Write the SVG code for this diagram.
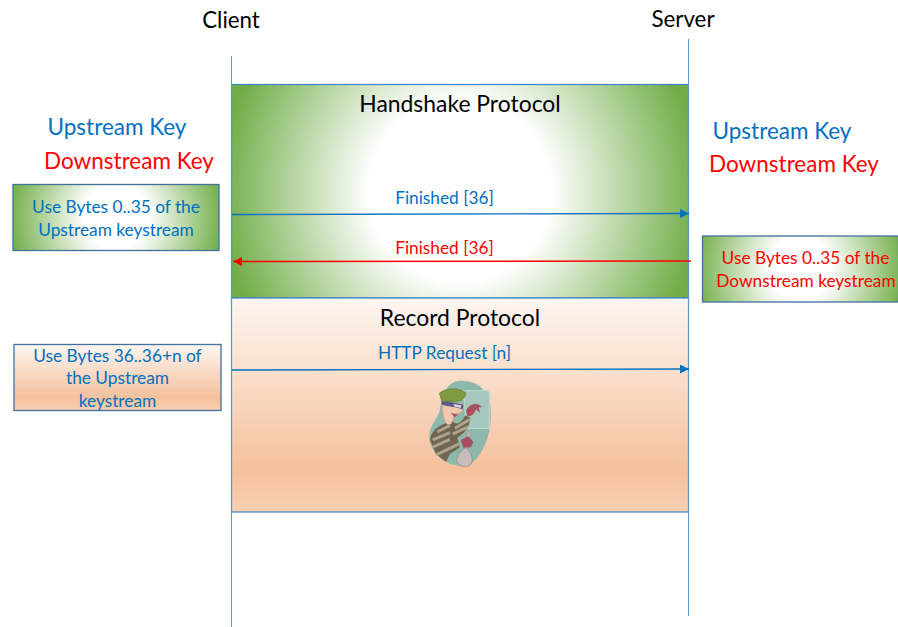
<svg xmlns="http://www.w3.org/2000/svg" width="898" height="627" viewBox="0 0 898 627">
<style>
text{font-family:Lato,"Noto Sans",sans-serif;text-anchor:middle}
.h{font-size:22.3px;fill:#000}
.pr{font-size:22.9px;fill:#000}
.k{font-size:22.5px}
.u{fill:#0070C0}
.r{fill:#FF0000}
.s{font-size:17.3px}
.box{stroke:#41719C;stroke-width:1.3}
.stage{stroke:#3F83C4;stroke-width:1.2}
.life{stroke:#5B9BD5;stroke-width:1;fill:none}
.blue{stroke:#0070C0;stroke-width:1.4;fill:none;marker-end:url(#ab)}
.red{stroke:#FF0000;stroke-width:1.4;fill:none;marker-end:url(#ar)}
</style>
<defs>
<radialGradient id="g" gradientUnits="userSpaceOnUse" cx="460" cy="191" r="240">
<stop offset=".38" stop-color="#fff"/><stop offset="1" stop-color="#70AD47"/>
</radialGradient>
<radialGradient id="g1" gradientUnits="userSpaceOnUse" cx="116" cy="217" r="108">
<stop offset=".3" stop-color="#fff"/><stop offset="1" stop-color="#70AD47"/>
</radialGradient>
<radialGradient id="g2" gradientUnits="userSpaceOnUse" cx="800" cy="269" r="106">
<stop offset=".3" stop-color="#fff"/><stop offset="1" stop-color="#70AD47"/>
</radialGradient>
<linearGradient id="p" x1="0" y1="0" x2="0" y2="1">
<stop offset="0" stop-color="#FEF6F1"/><stop offset=".8" stop-color="#F5C19D"/><stop offset="1" stop-color="#F8CFB3"/>
</linearGradient>
<marker id="ab" markerUnits="userSpaceOnUse" markerWidth="10" markerHeight="9" refX="9" refY="4.500" orient="auto"><path d="M0 0L9 4.500L0 9Z" fill="#0070C0"/></marker>
<marker id="ar" markerUnits="userSpaceOnUse" markerWidth="10" markerHeight="9" refX="9" refY="4.500" orient="auto"><path d="M0 0L9 4.500L0 9Z" fill="#FF0000"/></marker>
<clipPath id="body"><path d="M132 192L156 180C166 200 184 190 196 166L212 174C206 205 192 222 172 232L180 262L150 282L138 306L108 282L90 240C93 215 112 200 132 192Z"/></clipPath>
</defs>

<g id="handshake"><rect x="231.500" y="84.500" width="457" height="213.500" fill="url(#g)" class="stage"/>
<text class="pr" x="460" y="112">Handshake Protocol</text></g>
<g id="record"><rect x="231.500" y="298" width="457" height="214" fill="url(#p)" class="stage"/>
<text class="pr" x="460" y="326">Record Protocol</text></g>

<g id="connectors">
<path class="life" d="M231.500 56V627"/>
<path class="life" d="M688.500 39V616"/>
<path class="blue" d="M232 214.500L689 213.500"/>
<path class="red" d="M691 261L233 261.500"/>
<path class="blue" d="M232 370L689 369"/>
</g>

<g id="client"><text class="h" x="231" y="28">Client</text></g>
<g id="server"><text class="h" x="683" y="27">Server</text></g>

<g id="client-keys"><text class="k u" x="117" y="135">Upstream Key</text><text class="k r" x="129" y="169">Downstream Key</text></g>
<g id="server-keys"><text class="k u" x="782" y="139">Upstream Key</text><text class="k r" x="794" y="172">Downstream Key</text></g>

<g id="label-finished-up"><text class="s u" x="444.500" y="204">Finished [36]</text></g>
<g id="label-finished-down"><text class="s r" x="444.500" y="254">Finished [36]</text></g>
<g id="label-http"><text class="s u" x="444.500" y="359">HTTP Request [n]</text></g>

<g id="note-client-1"><rect class="box" x="13" y="184.500" width="206" height="66" fill="url(#g1)"/>
<text class="s u" x="116" y="213">Use Bytes 0..35 of the</text><text class="s u" x="116" y="236">Upstream keystream</text></g>
<g id="note-server-1"><rect class="box" x="702.500" y="236" width="196" height="66" fill="url(#g2)"/>
<text class="s r" x="805.500" y="264">Use Bytes 0..35 of the</text><text class="s r" x="806" y="287">Downstream keystream</text></g>
<g id="note-client-2"><rect class="box" x="14" y="344.500" width="207" height="66" fill="url(#p)" stroke="#5B9BD5"/>
<text class="s u" x="117.500" y="362">Use Bytes 36..36+n of</text><text class="s u" x="117.500" y="384">the Upstream</text><text class="s u" x="117.500" y="407">keystream</text></g>

<g id="thief" transform="translate(400 360) scale(.3333)">
<path d="M180 62C235 60 268 95 272 140C276 195 265 245 238 285C222 310 195 325 165 315C125 305 90 275 88 230C87 195 112 180 120 150C125 105 140 65 180 62Z" fill="#8DB9AC"/>
<path d="M190 92H258Q268 92 268 102V205H200Z" fill="#A5C7BC" stroke="#BAD5CB" stroke-width="4"/>
<g clip-path="url(#body)">
<rect x="85" y="160" width="135" height="150" fill="#6E6650"/>
<path d="M112 216L150 196M98 240L150 218M96 262L150 238M110 284L180 250M165 205L210 178M158 222L205 200" stroke="#AFA28C" stroke-width="9" fill="none"/>
</g>
<path d="M128 126C124 150 130 172 136 186C142 198 154 196 158 182C160 170 166 162 176 160C188 158 192 148 188 132Z" fill="#F3C6B0" stroke="#C98F80" stroke-width="1.500"/>
<path d="M118 100C132 86 172 80 197 98C198 112 188 122 168 124L126 124Z" fill="#7F9B3E" stroke="#5F7A2C" stroke-width="2"/>
<path d="M124 124L152 126L190 134L188 148L165 142L140 138L126 134Z" fill="#5C5884"/>
<path d="M160 132L184 136L182 144L164 140Z" fill="#D9D5E0"/>
<path d="M152 158L174 164L164 172Z" fill="#A94F5E"/>
<path d="M198 152C208 132 232 124 246 142L236 142L240 158L228 148C224 160 214 172 202 168Z" fill="#A94F5E"/>
<path d="M182 240L205 229L220 245L213 262L190 263Z" fill="#A94F5E"/>
<path d="M198 262C215 278 222 298 212 314C202 324 180 322 172 308C166 292 180 275 198 262Z" fill="#C9BDBB" stroke="#8C7F80" stroke-width="2"/>
<path d="M200 230L205 208L213 226Z" fill="#C9BDBB" stroke="#8C7F80"/>
</g>
</svg>
